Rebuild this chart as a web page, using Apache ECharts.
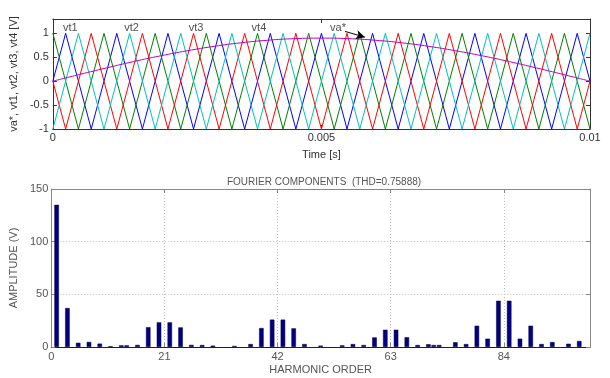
<!DOCTYPE html>
<html><head><meta charset="utf-8">
<script src="https://cdn.jsdelivr.net/npm/echarts@6/dist/echarts.min.js"></script>
<style>html,body{margin:0;padding:0;background:#fff}#c{width:610px;height:378px}</style>
</head><body><div id="c"></div>
<script>
// ---- top plot: carrier vertex times (s) and carrier / reference values ----
const timeS = [0, 0.000238, 0.000476, 0.000714, 0.000952, 0.001190, 0.001429, 0.001667, 0.001905, 0.002143,
  0.002381, 0.002619, 0.002857, 0.003095, 0.003333, 0.003571, 0.003810, 0.004048, 0.004286, 0.004524,
  0.004762, 0.005000, 0.005238, 0.005476, 0.005714, 0.005952, 0.006190, 0.006429, 0.006667, 0.006905,
  0.007143, 0.007381, 0.007619, 0.007857, 0.008095, 0.008333, 0.008571, 0.008810, 0.009048, 0.009286,
  0.009524, 0.009762, 0.010000];
const vt1 = [0,1,0,-1, 0,1,0,-1, 0,1,0,-1, 0,1,0,-1, 0,1,0,-1, 0,1,0,-1, 0,1,0,-1, 0,1,0,-1, 0,1,0,-1, 0,1,0,-1, 0,1,0];
const vt2 = [1,0,-1,0, 1,0,-1,0, 1,0,-1,0, 1,0,-1,0, 1,0,-1,0, 1,0,-1,0, 1,0,-1,0, 1,0,-1,0, 1,0,-1,0, 1,0,-1,0, 1,0,-1];
const vt3 = [0,-1,0,1, 0,-1,0,1, 0,-1,0,1, 0,-1,0,1, 0,-1,0,1, 0,-1,0,1, 0,-1,0,1, 0,-1,0,1, 0,-1,0,1, 0,-1,0,1, 0,-1,0];
const vt4 = [-1,0,1,0, -1,0,1,0, -1,0,1,0, -1,0,1,0, -1,0,1,0, -1,0,1,0, -1,0,1,0, -1,0,1,0, -1,0,1,0, -1,0,1,0, -1,0,1];
const vaTime = [0,0.0005,0.001,0.0015,0.002,0.0025,0.003,0.0035,0.004,0.0045,0.005,
  0.0055,0.006,0.0065,0.007,0.0075,0.008,0.0085,0.009,0.0095,0.01];
const vaStar = [0,0.141,0.278,0.409,0.529,0.636,0.728,0.802,0.856,0.889,0.9,
  0.889,0.856,0.802,0.728,0.636,0.529,0.409,0.278,0.141,0];
const annotNames = ['vt1','vt2','vt3','vt4','va*'];
const annotTime = [0.00019, 0.00133, 0.00253, 0.0037, 0.00516];
const annotValue = [1.12, 1.12, 1.12, 1.12, 1.12];
const arrowFrom = [0.00544, 1.04];
const arrowTo = [0.00581, 0.92];

// ---- bottom plot: harmonic spectrum ----
const harmonicOrder = [1,3,5,7,9,11,13,14,16,18,20,22,24,26,28,30,34,37,39,41,43,45,47,50,
  54,56,58,60,62,64,66,68,70,71,72,75,77,79,81,83,85,87,89,91,93,96,98];
const amplitude = [135,37,4,4.8,3.2,0.7,1.6,1.6,2,18.8,23.4,23.4,18.6,2,1.9,1.3,1,2.8,18,26,26,17.7,2.8,1.3,
  1.6,2.8,1.9,9.1,16.4,16.4,9.3,1.9,2.6,1.9,1.9,4.5,2.8,20.2,7.9,43.9,43.9,7.9,20.2,2.8,4.7,3.1,5.7];
const thdText = 'FOURIER COMPONENTS  (THD=0.75888)';

const FONT = 'Liberation Sans, Arial, sans-serif';
const chart = echarts.init(document.getElementById('c'), null, {renderer: 'canvas'});
const zip = (a, b) => a.map((v, i) => [v, b[i]]);

const topText = '#333';
const botText = '#555';

const option = {
  animation: false,
  backgroundColor: '#fff',
  textStyle: {fontFamily: FONT},
  title: {
    text: thdText, left: 319, top: 172, textAlign: 'center',
    textStyle: {fontSize: 10, fontWeight: 'normal', color: botText, fontFamily: FONT}
  },
  grid: [
    {left: 49, top: 19, width: 541, height: 110, show: false},
    {left: 48, top: 189, width: 542, height: 158, show: false}
  ],
  xAxis: [
    {gridIndex: 0, type: 'value', min: 0, max: 0.01, interval: 0.005, position: 'bottom',
     name: 'Time [s]', nameLocation: 'middle', nameGap: 20,
     nameTextStyle: {fontSize: 11, color: topText, fontFamily: FONT},
     axisLine: {onZero: false, lineStyle: {color: '#333', width: 1}},
     axisTick: {inside: true, length: 4, lineStyle: {color: '#333'}},
     axisLabel: {fontSize: 11, color: topText, margin: 3, fontFamily: FONT,
       formatter: v => String(v)},
     splitLine: {show: false}},
    {gridIndex: 0, type: 'value', min: 0, max: 0.01, interval: 0.005, position: 'top',
     axisLine: {onZero: false, lineStyle: {color: '#333', width: 1}},
     axisTick: {inside: true, length: 4, lineStyle: {color: '#333'}},
     axisLabel: {show: false}, splitLine: {show: false}},
    {gridIndex: 1, type: 'value', min: 0, max: 100, interval: 21, position: 'bottom',
     name: 'HARMONIC ORDER', nameLocation: 'middle', nameGap: 17,
     nameTextStyle: {fontSize: 11, color: botText, fontFamily: FONT},
     axisLine: {onZero: false, lineStyle: {color: '#222', width: 1}},
     axisTick: {inside: true, length: 4, lineStyle: {color: '#888'}},
     axisLabel: {fontSize: 11, color: botText, margin: 4, showMaxLabel: false, fontFamily: FONT},
     splitLine: {show: true, lineStyle: {color: '#bbb', type: [1, 2], width: 1}}},
    {gridIndex: 1, type: 'value', min: 0, max: 100, interval: 21, position: 'top',
     axisLine: {onZero: false, lineStyle: {color: '#888', width: 1}},
     axisTick: {inside: true, length: 4, lineStyle: {color: '#888'}},
     axisLabel: {show: false}, splitLine: {show: false}}
  ],
  yAxis: [
    {gridIndex: 0, type: 'value', min: -1, max: 1.3, interval: 0.5, position: 'left',
     name: 'va*, vt1, vt2, vt3, vt4 [V]', nameLocation: 'middle', nameGap: 23, nameRotate: 90,
     nameTextStyle: {fontSize: 11, color: topText, fontFamily: FONT},
     axisLine: {onZero: false, lineStyle: {color: '#333', width: 1}},
     axisTick: {inside: true, length: 4, lineStyle: {color: '#333'}},
     axisLabel: {fontSize: 11, color: topText, margin: 4, showMaxLabel: false, fontFamily: FONT},
     splitLine: {show: false}},
    {gridIndex: 0, type: 'value', min: -1, max: 1.3, interval: 0.5, position: 'right',
     axisLine: {onZero: false, lineStyle: {color: '#333', width: 1}},
     axisTick: {inside: true, length: 4, lineStyle: {color: '#333'}},
     axisLabel: {show: false}, splitLine: {show: false}},
    {gridIndex: 1, type: 'value', min: 0, max: 150, interval: 50, position: 'left',
     name: 'AMPLITUDE (V)', nameLocation: 'middle', nameGap: 23, nameRotate: 90,
     nameTextStyle: {fontSize: 11, color: botText, fontFamily: FONT},
     axisLine: {onZero: false, lineStyle: {color: '#888', width: 1}},
     axisTick: {inside: true, length: 4, lineStyle: {color: '#888'}},
     axisLabel: {fontSize: 11, color: botText, margin: 3, fontFamily: FONT},
     splitLine: {show: true, lineStyle: {color: '#bbb', type: [1, 2], width: 1}}},
    {gridIndex: 1, type: 'value', min: 0, max: 150, interval: 50, position: 'right',
     axisLine: {onZero: false, lineStyle: {color: '#888', width: 1}},
     axisTick: {inside: true, length: 4, lineStyle: {color: '#888'}},
     axisLabel: {show: false}, splitLine: {show: false}}
  ],
  series: [
    {type: 'line', xAxisIndex: 0, yAxisIndex: 0, data: zip(timeS, vt1), showSymbol: false,
     lineStyle: {color: '#0000ff', width: 1}, silent: true},
    {type: 'line', xAxisIndex: 0, yAxisIndex: 0, data: zip(timeS, vt2), showSymbol: false,
     lineStyle: {color: '#008000', width: 1}, silent: true},
    {type: 'line', xAxisIndex: 0, yAxisIndex: 0, data: zip(timeS, vt3), showSymbol: false,
     lineStyle: {color: '#ff0000', width: 1}, silent: true},
    {type: 'line', xAxisIndex: 0, yAxisIndex: 0, data: zip(timeS, vt4), showSymbol: false,
     lineStyle: {color: '#00bfbf', width: 1}, silent: true},
    {type: 'line', xAxisIndex: 0, yAxisIndex: 0, data: zip(vaTime, vaStar), showSymbol: false, smooth: true,
     lineStyle: {color: '#bf00bf', width: 1}, silent: true},
    {type: 'scatter', xAxisIndex: 0, yAxisIndex: 0, symbolSize: 0, silent: true,
     data: annotNames.map((n, i) => ({name: n, value: [annotTime[i], annotValue[i]]})),
     label: {show: true, formatter: '{b}', position: 'right', distance: 0,
       fontSize: 11, color: '#222', fontFamily: FONT},
     markLine: {silent: true, symbol: ['none', 'arrow'], symbolSize: [7, 9],
       label: {show: false}, lineStyle: {color: '#000', width: 1, type: 'solid'},
       data: [[{coord: arrowFrom}, {coord: arrowTo}]]}},
    {type: 'bar', xAxisIndex: 2, yAxisIndex: 2, data: zip(harmonicOrder, amplitude),
     barWidth: 4.5, itemStyle: {color: '#000080', borderColor: '#000040', borderWidth: 0.5}, silent: true}
  ]
};
chart.setOption(option);
</script></body></html>
